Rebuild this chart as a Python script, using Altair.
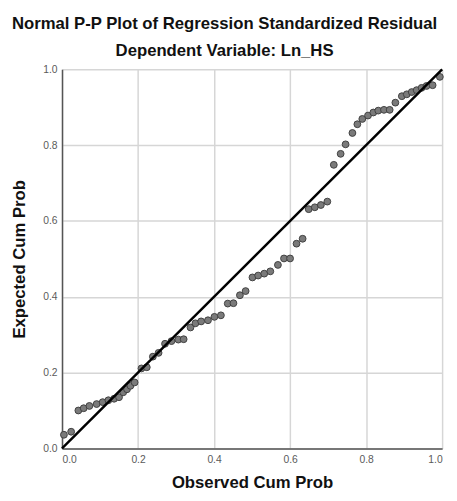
import altair as alt
import pandas as pd

observed = [0.005, 0.024, 0.043, 0.057, 0.072, 0.091, 0.107, 0.122, 0.137, 0.150,
            0.161, 0.171, 0.180, 0.191, 0.209, 0.223, 0.239, 0.254, 0.271, 0.288,
            0.306, 0.320, 0.338, 0.351, 0.366, 0.384, 0.401, 0.418, 0.436, 0.451,
            0.468, 0.483, 0.501, 0.516, 0.532, 0.548, 0.568, 0.584, 0.600, 0.617,
            0.633, 0.649, 0.665, 0.681, 0.698, 0.715, 0.733, 0.746, 0.764, 0.777,
            0.790, 0.805, 0.819, 0.832, 0.847, 0.862, 0.877, 0.894, 0.907, 0.920,
            0.933, 0.946, 0.959, 0.975, 0.994]
expected = [0.036, 0.044, 0.100, 0.106, 0.112, 0.117, 0.122, 0.127, 0.131, 0.135,
            0.148, 0.156, 0.165, 0.174, 0.211, 0.214, 0.242, 0.252, 0.276, 0.283,
            0.287, 0.288, 0.319, 0.330, 0.335, 0.338, 0.347, 0.351, 0.382, 0.383,
            0.404, 0.415, 0.451, 0.456, 0.461, 0.467, 0.484, 0.501, 0.501, 0.540,
            0.553, 0.631, 0.636, 0.642, 0.651, 0.748, 0.777, 0.802, 0.832, 0.855,
            0.869, 0.878, 0.886, 0.891, 0.893, 0.893, 0.912, 0.929, 0.934, 0.940,
            0.945, 0.951, 0.956, 0.958, 0.980]
line_x = [0.0, 1.0]
line_y = [0.0, 1.0]
tick_values = [0.0, 0.2, 0.4, 0.6, 0.8, 1.0]

pts = pd.DataFrame({"obs": observed, "exp": expected})
diag = pd.DataFrame({"obs": line_x, "exp": line_y})

FONT = "Liberation Sans"
scale = alt.Scale(domain=[0, 1], nice=False, zero=False)

common_axis = dict(
    values=tick_values, format=".1f", labelFont=FONT, labelFontSize=10.5,
    labelColor="#5a5a5a", grid=True, gridColor="#d6d6d6", gridWidth=1.5,
    domainColor="#555555", domainWidth=1.5, tickSize=0,
    titleFont=FONT, titleFontSize=17, titleFontWeight="bold", titleColor="#111111",
)

xaxis = alt.Axis(title="Observed Cum Prob", labelPadding=6,
                 titleBaseline="alphabetic", titleY=40, **common_axis)
yaxis = alt.Axis(title="Expected Cum Prob", labelPadding=5,
                 titleX=-34, **common_axis)

points = alt.Chart(pts).mark_circle(
    size=48, color="#7a7a7a", stroke="#404040", strokeWidth=1, opacity=1
).encode(
    x=alt.X("obs:Q", scale=scale, axis=xaxis),
    y=alt.Y("exp:Q", scale=scale, axis=yaxis),
)

line = alt.Chart(diag).mark_line(color="black", strokeWidth=2.5).encode(
    x=alt.X("obs:Q", scale=scale),
    y=alt.Y("exp:Q", scale=scale),
)

chart = alt.layer(points, line).properties(
    width=387, height=386,
    title=alt.TitleParams(
        text="Normal P-P Plot of Regression Standardized Residual",
        subtitle="Dependent Variable: Ln_HS",
        font=FONT, fontSize=17, fontWeight="bold", color="#111111",
        subtitleFont=FONT, subtitleFontSize=17, subtitleFontWeight="bold",
        subtitleColor="#111111", subtitlePadding=10,
        anchor="middle", frame="group", dx=-28, offset=5,
    ),
    autosize=alt.AutoSizeParams(type="none"),
    padding={"left": 55, "top": 58, "right": 7, "bottom": 41},
    background="white",
).configure_view(stroke=None)

chart.save("out.html", embed_options={"renderer": "svg", "actions": False})
